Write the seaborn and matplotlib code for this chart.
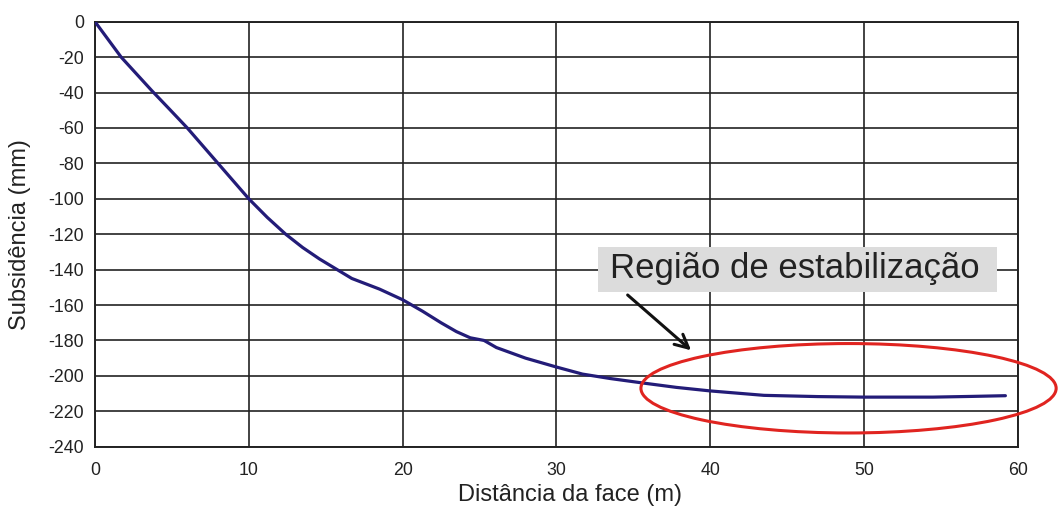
import matplotlib
matplotlib.use("Agg")
import matplotlib.pyplot as plt
import seaborn as sns
import pandas as pd
from matplotlib.patches import Ellipse, Rectangle

# Settlement profile behind the tunnel face
distancia = [0, 1.7, 3.7, 4.8, 6.0, 8.0, 10.0, 11.2, 12.4, 13.5, 14.6, 16.7, 18.5,
             20.0, 21.3, 22.5, 23.5, 24.4, 25.3, 26.1, 28.0, 30.0, 31.7, 33.5, 35.6,
             37.8, 40.0, 43.5, 47.0, 50.0, 54.5, 57.0, 59.2]
subsidencia = [0, -20, -39, -49, -60, -80, -100, -110.5, -120, -127.5, -134, -145, -151,
               -157, -163.5, -170, -175, -178.5, -180, -184, -190, -195, -199, -201.5,
               -204, -206.5, -208.5, -211, -211.7, -212, -212, -211.6, -211.2]

x_ticks = [0, 10, 20, 30, 40, 50, 60]
y_ticks = list(range(0, -241, -20))

anotacao = "Região de estabilização"

sns.set_theme(style="white")
plt.rcParams["font.family"] = ["Liberation Sans", "DejaVu Sans"]
plt.rcParams["axes.unicode_minus"] = False

fig = plt.figure(figsize=(10.58, 5.11), dpi=100)
ax = fig.add_axes([95 / 1058, 1 - 446.7 / 511, (1017.7 - 95) / 1058, (446.7 - 21.7) / 511])

df = pd.DataFrame({"x": distancia, "y": subsidencia})
sns.lineplot(data=df, x="x", y="y", ax=ax, color="#231c78", linewidth=2.3,
             zorder=3)

ax.set_xlim(0, 60)
ax.set_ylim(-240, 0)
ax.set_xticks(x_ticks)
ax.set_yticks(y_ticks)
ax.set_xticklabels([str(v) for v in x_ticks])
ax.set_yticklabels([str(v) for v in y_ticks])
ax.tick_params(axis="both", length=0, labelsize=12.8, labelcolor="#222222", pad=8)
ax.tick_params(axis="x", pad=11)

ax.grid(True, color="#222222", linewidth=1.2)
for s in ax.spines.values():
    s.set_color("#222222")
    s.set_linewidth(1.4)
    s.set_visible(True)

ax.set_xlabel("Distância da face (m)", fontsize=17, color="#222222")
ax.set_ylabel("Subsidência (mm)", fontsize=17, color="#222222")
ax.xaxis.set_label_coords((570 - 95) / 922.7, -(495 - 446.7) / 425)
ax.xaxis.label.set_va("center")
ax.yaxis.set_label_coords(-(95 - 20) / 922.7, 0.5)
ax.yaxis.label.set_va("center")

# Stabilisation region highlight
ell = Ellipse((49.0, -207.0), width=27.0, height=50.5, fill=False,
              edgecolor="#e02420", linewidth=2.2, clip_on=False, zorder=4)
ax.add_patch(ell)

# Label box and callout arrow
ax.add_patch(Rectangle((32.7, -152.7), 25.95, 25.4, facecolor="#dcdcdc",
                       edgecolor="none", zorder=5))
ax.text(33.5, -139.5, anotacao, fontsize=25, color="#222222", ha="left", va="center",
        zorder=6)

ax.annotate("", xy=(38.9, -186.6), xytext=(34.5, -153.3),
            arrowprops=dict(arrowstyle="->,head_length=0.8,head_width=0.4",
                            color="#111111", lw=2.2),
            zorder=5)

fig.savefig("out.png", dpi=100)
